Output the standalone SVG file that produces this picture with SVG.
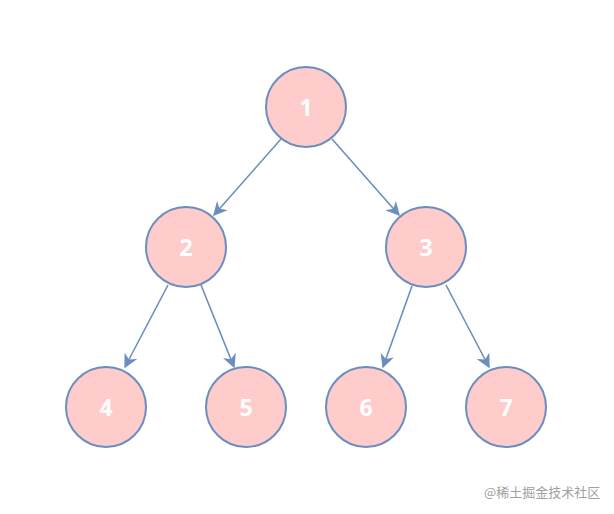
<svg xmlns="http://www.w3.org/2000/svg" width="614" height="514" viewBox="0 0 614 514">
<defs>
<style>
.n{fill:#ffcccc;stroke:#6c8ebf;stroke-width:2}
.t{fill:#ffffff;font-family:"Open Sans","DejaVu Sans",sans-serif;font-weight:bold;font-size:23px;text-anchor:middle;dominant-baseline:central}
.e{stroke:#6c8ebf;stroke-width:1.6;fill:none;marker-end:url(#a)}
.w{fill:#a0a0a0;font-family:"Noto Sans CJK SC",sans-serif;font-size:13px}
</style>
<marker id="a" viewBox="0 0 10 10" refX="9" refY="5" markerWidth="14" markerHeight="14" markerUnits="userSpaceOnUse" orient="auto">
<path d="M0,0 L10,5 L0,10 L3,5 Z" fill="#6c8ebf"/>
</marker>
</defs>
<rect width="614" height="514" fill="#ffffff"/>
<g id="edges">
<line class="e" x1="281" y1="139" x2="214" y2="215"/>
<line class="e" x1="332" y1="139" x2="399" y2="215"/>
<line class="e" x1="168" y1="285" x2="125" y2="367"/>
<line class="e" x1="201" y1="285" x2="234" y2="367"/>
<line class="e" x1="412" y1="286" x2="383" y2="367"/>
<line class="e" x1="446" y1="285" x2="489" y2="367"/>
</g>
<g id="n1"><circle class="n" cx="306" cy="107" r="40"/><text class="t" x="306" y="107">1</text></g>
<g id="n2"><circle class="n" cx="186" cy="247" r="40"/><text class="t" x="186" y="247">2</text></g>
<g id="n3"><circle class="n" cx="426" cy="247" r="40"/><text class="t" x="426" y="247">3</text></g>
<g id="n4"><circle class="n" cx="106" cy="407" r="40"/><text class="t" x="106" y="407">4</text></g>
<g id="n5"><circle class="n" cx="246" cy="407" r="40"/><text class="t" x="246" y="407">5</text></g>
<g id="n6"><circle class="n" cx="366" cy="407" r="40"/><text class="t" x="366" y="407">6</text></g>
<g id="n7"><circle class="n" cx="506" cy="407" r="40"/><text class="t" x="506" y="407">7</text></g>
<text class="w" x="484" y="497">@稀土掘金技术社区</text>
</svg>
